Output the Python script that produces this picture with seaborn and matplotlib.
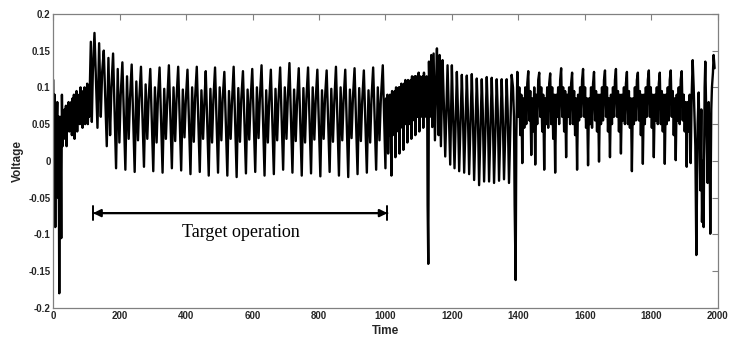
import pandas as pd
import matplotlib.pyplot as plt
import seaborn as sns

sns.set_theme(style="white")
plt.rcParams["font.family"] = ["Liberation Sans", "DejaVu Sans"]
plt.rcParams["axes.unicode_minus"] = False

# start-up transient (0 - 120)
t_start = [0, 2, 4, 6, 8, 10, 12, 14, 16, 18, 20, 22, 24, 26, 28, 30, 32, 34, 36, 38,
           40, 42, 44, 46, 48, 50, 52, 54, 56, 58, 60, 62, 64, 66, 68, 70, 72, 74, 76, 78,
           80, 82, 84, 86, 88, 90, 92, 94, 96, 98, 100, 102, 104, 106, 108, 110, 113, 116, 119]
v_start = [0.11, -0.07, 0.09, -0.09, 0.07, 0.04, 0.08, -0.05, 0.06, -0.18, 0.06, 0.03, -0.105, 0.09,
           0.02, 0.065, 0.03, 0.07, 0.045, 0.075, 0.02, 0.07, 0.05, 0.08, 0.04, 0.075, 0.055, 0.08,
           0.035, 0.085, 0.05, 0.09, 0.03, 0.08, 0.06, 0.095, 0.04, 0.085, 0.06, 0.09, 0.05, 0.1,
           0.06, 0.085, 0.045, 0.095, 0.065, 0.1, 0.05, 0.09, 0.07, 0.105, 0.05, 0.085, 0.06, 0.1,
           0.162, 0.053, 0.12]

# target operation cycles (120 - 990)
peak_times = [124, 152, 180, 208, 236, 264, 292, 320, 348, 376, 404, 432, 459, 487, 515, 543,
              571, 599, 627, 655, 683, 711, 739, 767, 795, 823, 851, 879, 907, 935, 963]
peak_hi = [0.174, 0.15, 0.146, 0.134, 0.131, 0.128, 0.125, 0.127, 0.13, 0.128, 0.124, 0.128, 0.122,
           0.127, 0.121, 0.128, 0.122, 0.125, 0.13, 0.124, 0.127, 0.133, 0.126, 0.127, 0.124, 0.123,
           0.128, 0.124, 0.126, 0.123, 0.127]
trough_lo = [0.045, 0.02, -0.01, -0.012, -0.015, -0.008, -0.014, -0.016, -0.01, -0.013, -0.018,
             -0.015, -0.02, -0.016, -0.02, -0.022, -0.017, -0.015, -0.02, -0.018, -0.012, -0.016,
             -0.02, -0.017, -0.021, -0.015, -0.02, -0.022, -0.018, -0.016, -0.012]
peak_mid = [0.16, 0.14, 0.125, 0.115, 0.108, 0.104, 0.1, 0.098, 0.1, 0.097, 0.1, 0.096, 0.098, 0.1,
            0.095, 0.099, 0.097, 0.1, 0.096, 0.098, 0.1, 0.097, 0.099, 0.1, 0.096, 0.098, 0.1, 0.097,
            0.099, 0.096, 0.1]
trough_mid = [0.06, 0.035, 0.025, 0.03, 0.028, 0.03, 0.025, 0.03, 0.027, 0.032, 0.026, 0.03, 0.025,
              0.028, 0.03, 0.026, 0.029, 0.031, 0.025, 0.028, 0.03, 0.027, 0.025, 0.029, 0.03, 0.026,
              0.028, 0.031, 0.027, 0.025, 0.028]
shoulder = [0.12, 0.1, 0.09, 0.085, 0.085, 0.083, 0.085, 0.08, 0.084, 0.082, 0.086, 0.08, 0.083,
            0.085, 0.08, 0.084, 0.082, 0.085, 0.08, 0.083, 0.085, 0.081, 0.084, 0.082, 0.085, 0.08,
            0.083, 0.085, 0.081, 0.084, 0.082]
cycle_offsets = [0, 9, 14, 19, 23]

# dense section (992 peak, then samples every 2 from 1000 to 1126)
t_dense = [992] + list(range(1000, 1127, 2))
v_dense = [0.13,
           -0.01, 0.085, 0.03, 0.09, 0.01, 0.085, 0.035, 0.09, 0.04, -0.02, 0.095, 0.035, 0.09,
           0.04, 0.095, 0.005, 0.1, 0.04, 0.095, 0.045, 0.1, 0.01, 0.1, 0.045, 0.105, 0.05, 0.1,
           0.015, 0.105, 0.05, 0.11, 0.05, 0.1, 0.025, 0.11, 0.055, 0.105, 0.05, 0.11, 0.03,
           0.115, 0.055, 0.11, 0.06, 0.115, 0.035, 0.115, 0.06, 0.11, 0.06, 0.12, 0.04, 0.115,
           0.065, 0.11, 0.06, 0.115, 0.045, 0.12, 0.065, 0.11, 0.06, 0.115, 0.05]

# after first fault (1127 - 1395)
t_mid = [1127, 1129, 1131, 1134, 1138, 1141, 1145, 1149, 1155, 1158, 1160, 1163, 1167, 1172, 1176,
         1180, 1187, 1190, 1195, 1200, 1203, 1208, 1215, 1218, 1222, 1230, 1233, 1237, 1245, 1248,
         1252, 1260, 1263, 1267, 1275, 1278, 1282, 1290, 1293, 1297, 1305, 1308, 1312, 1320, 1323,
         1327, 1335, 1338, 1342, 1350, 1353, 1357, 1365, 1368, 1372, 1380, 1384, 1387, 1389, 1392, 1394]
v_mid = [-0.06, -0.14, 0.135, 0.06, 0.144, 0.046, 0.146, 0.028, 0.153, 0.09, 0.035, 0.144, 0.02,
         0.137, 0.075, 0.006, 0.13, 0.08, -0.005, 0.13, 0.075, -0.01, 0.121, 0.072, -0.014, 0.117,
         0.07, -0.016, 0.116, 0.07, -0.018, 0.118, 0.068, -0.026, 0.112, 0.07, -0.033, 0.111, 0.068,
         -0.028, 0.114, 0.07, -0.028, 0.113, 0.068, -0.03, 0.111, 0.07, -0.027, 0.111, 0.068, -0.025,
         0.111, 0.07, -0.03, 0.117, 0.1, 0.06, -0.06, -0.162, 0.03]

# late operation, samples every 3 from 1397 to 1928
t_late = list(range(1397, 1929, 3))
v_late = [0.121, 0.06, 0.1, 0.035, 0.09, -0.003, 0.085, 0.045, 0.1, 0.05, 0.105,
          0.122, 0.055, 0.095, 0.008, 0.085, 0.04, 0.1, -0.005, 0.09, 0.05, 0.11,
          0.12, 0.06, 0.1, 0.04, 0.09, -0.012, 0.085, 0.05, 0.1, 0.045, 0.105,
          0.119, 0.05, 0.1, 0.03, 0.09, -0.016, 0.09, 0.06, 0.1, 0.05, 0.11,
          0.126, 0.06, 0.1, 0.04, 0.095, 0.005, 0.09, 0.06, 0.1, 0.05, 0.105,
          0.12, 0.05, 0.095, 0.035, 0.085, -0.012, 0.09, 0.055, 0.1, 0.06, 0.11,
          0.125, 0.06, 0.1, 0.045, 0.085, -0.006, 0.085, 0.05, 0.1, 0.045, 0.105,
          0.121, 0.055, 0.095, 0.04, 0.09, -0.001, 0.09, 0.05, 0.1, 0.055, 0.11,
          0.123, 0.06, 0.1, 0.04, 0.085, 0.005, 0.09, 0.05, 0.1, 0.06, 0.11,
          0.125, 0.06, 0.095, 0.04, 0.09, 0.01, 0.09, 0.055, 0.1, 0.05, 0.105,
          0.121, 0.05, 0.095, 0.045, 0.085, -0.014, 0.085, 0.05, 0.1, 0.055, 0.11,
          0.12, 0.055, 0.095, 0.035, 0.09, -0.004, 0.09, 0.05, 0.1, 0.06, 0.11,
          0.123, 0.06, 0.1, 0.045, 0.09, 0.005, 0.09, 0.055, 0.1, 0.05, 0.105,
          0.12, 0.05, 0.095, 0.04, 0.09, -0.004, 0.09, 0.05, 0.1, 0.055, 0.11,
          0.123, 0.06, 0.095, 0.035, 0.085, 0.001, 0.09, 0.055, 0.1, 0.05, 0.11,
          0.122, 0.055, 0.09, 0.04, 0.08, -0.008, 0.08, 0.04, 0.09, -0.003, 0.09,
          0.137, 0.1]

# end faults (1930 - 2000)
t_end = [1933, 1936, 1940, 1943, 1946, 1948, 1951, 1953, 1956, 1958, 1961, 1963, 1966, 1970, 1973,
         1976, 1978, 1981, 1983, 1986, 1988, 1991]
v_end = [0.02, -0.128, 0.05, 0.093, 0.03, -0.04, 0.07, -0.083, 0.0, -0.09, 0.1, 0.135, 0.06, -0.03,
         0.08, 0.02, -0.099, 0.07, 0.1, 0.12, 0.144, 0.126]

cyc_t, cyc_v = [], []
for i, t0 in enumerate(peak_times):
    cyc_t += [t0 + o for o in cycle_offsets]
    cyc_v += [peak_hi[i], trough_lo[i], peak_mid[i], trough_mid[i], shoulder[i]]

df = pd.DataFrame({
    "Time": t_start + cyc_t + t_dense + t_mid + t_late + t_end,
    "Voltage": v_start + cyc_v + v_dense + v_mid + v_late + v_end,
})

fig, ax = plt.subplots(figsize=(7.3, 3.54), dpi=100)
fig.subplots_adjust(left=0.073, right=0.983, bottom=0.13, top=0.961)

sns.lineplot(data=df, x="Time", y="Voltage", color="black", linewidth=1.7,
             estimator=None, sort=False, ax=ax)

ax.set_xlim(0, 2000)
ax.set_ylim(-0.2, 0.2)
ax.set_xticks(range(0, 2001, 200))
ax.set_yticks([-0.2, -0.15, -0.1, -0.05, 0, 0.05, 0.1, 0.15, 0.2])
ax.set_yticklabels(["-0.2", "-0.15", "-0.1", "-0.05", "0", "0.05", "0.1", "0.15", "0.2"])
ax.tick_params(direction="in", length=4, width=0.8, color="#808080", top=True, right=True,
               labelsize=7, pad=2)
for lab in ax.get_xticklabels() + ax.get_yticklabels():
    lab.set_fontweight("bold")
for sp in ax.spines.values():
    sp.set_visible(True)
    sp.set_color("#808080")
    sp.set_linewidth(0.9)

ax.set_xlabel("Time", fontsize=8.5, fontweight="bold", labelpad=3)
ax.set_ylabel("Voltage", fontsize=8.5, fontweight="bold", labelpad=3)

# operating window annotation
ax.annotate("", xy=(120, -0.071), xytext=(1006, -0.071),
            arrowprops=dict(arrowstyle="<|-|>", color="black", lw=1.6, mutation_scale=11,
                            shrinkA=0, shrinkB=0))
ax.annotate("", xy=(120, -0.071), xytext=(1006, -0.071),
            arrowprops=dict(arrowstyle="|-|", color="black", lw=1.4, mutation_scale=5,
                            shrinkA=0, shrinkB=0))
ax.text(566, -0.097, "Target operation", fontsize=13, family="Liberation Serif",
        ha="center", va="center", color="black")

plt.savefig("out.png", dpi=100)
